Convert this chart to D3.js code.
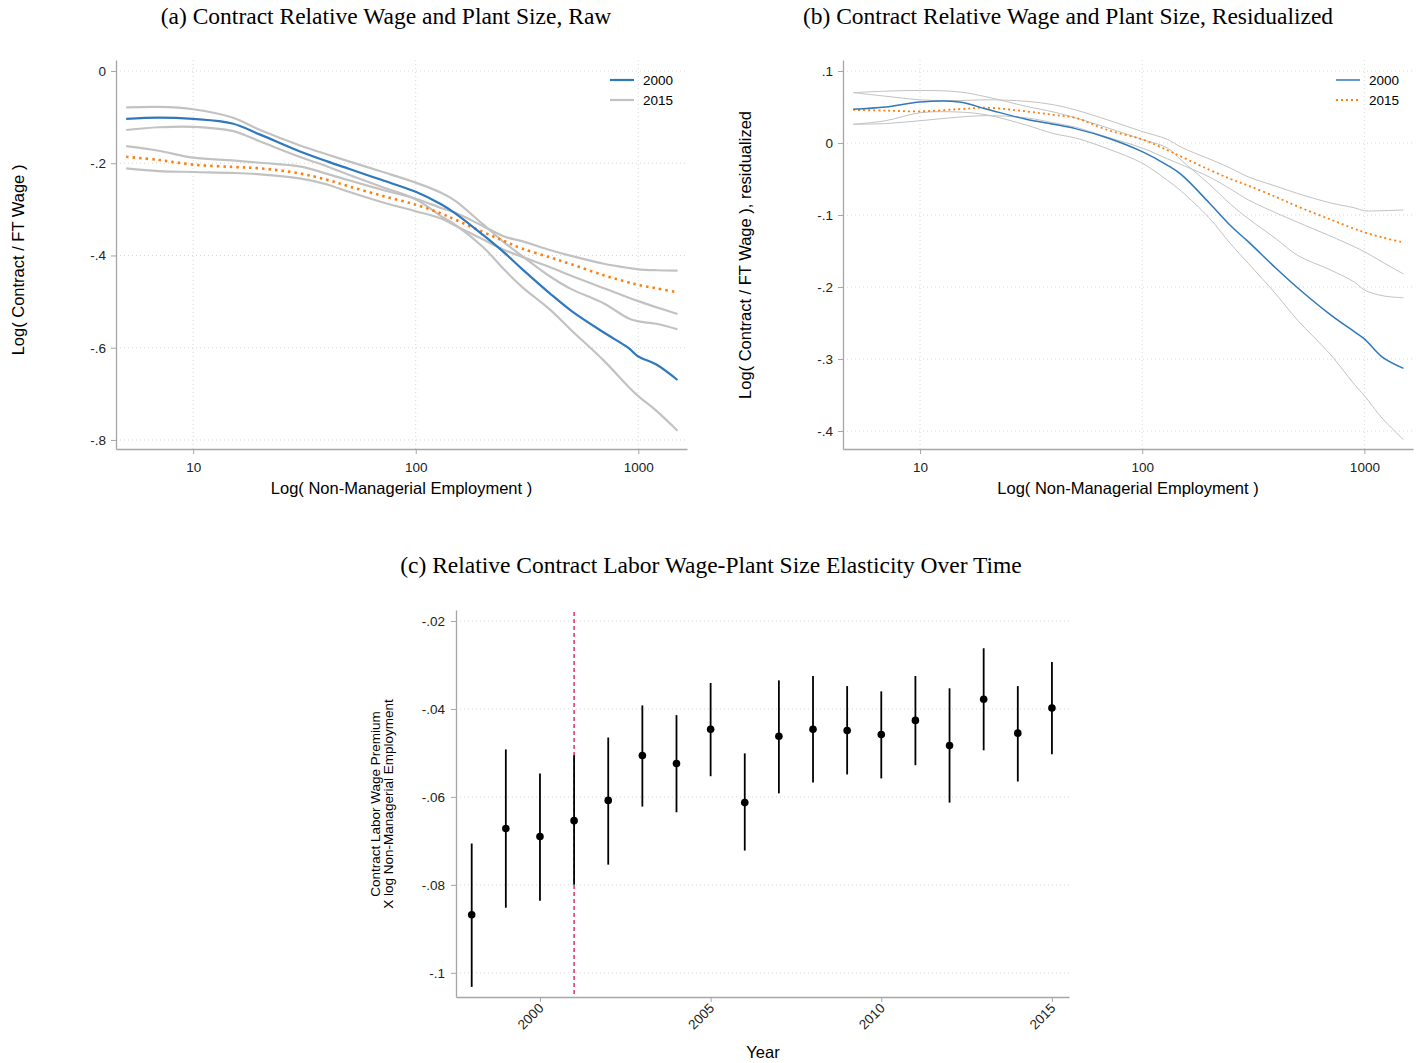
<!DOCTYPE html>
<html>
<head>
<meta charset="utf-8">
<script src="https://cdn.jsdelivr.net/npm/d3@7"></script>
<style>
body { margin: 0; background: #fff; }
text { font-family: "Liberation Sans", Arial, sans-serif; }
.title { font-family: "Liberation Serif", "Times New Roman", serif; font-size: 23.5px; fill: #000; }
</style>
</head>
<body>
<script>
// plant size grid (non-managerial employment)
var emp = [5, 7, 10, 15, 20, 30, 40, 50, 70, 100, 130, 150, 200, 250, 300, 400, 500, 700, 900, 1000, 1200, 1500];

// (a) raw
var rawEst2000 = [-0.104, -0.101, -0.104, -0.114, -0.138, -0.174, -0.196, -0.212, -0.236, -0.262, -0.289, -0.308, -0.355, -0.394, -0.429, -0.482, -0.520, -0.567, -0.600, -0.619, -0.636, -0.670];
var rawHi2000 = [-0.079, -0.078, -0.083, -0.101, -0.128, -0.161, -0.181, -0.196, -0.218, -0.242, -0.264, -0.281, -0.332, -0.372, -0.401, -0.445, -0.473, -0.504, -0.536, -0.543, -0.548, -0.560];
var rawLo2000 = [-0.128, -0.122, -0.121, -0.130, -0.153, -0.186, -0.207, -0.225, -0.251, -0.278, -0.315, -0.333, -0.381, -0.431, -0.468, -0.517, -0.562, -0.628, -0.684, -0.705, -0.736, -0.780];
var rawEst2015 = [-0.186, -0.193, -0.203, -0.208, -0.211, -0.222, -0.236, -0.250, -0.270, -0.290, -0.309, -0.322, -0.349, -0.369, -0.385, -0.404, -0.419, -0.443, -0.458, -0.464, -0.471, -0.480];
var rawHi2015 = [-0.163, -0.173, -0.188, -0.194, -0.199, -0.207, -0.223, -0.237, -0.257, -0.277, -0.297, -0.307, -0.336, -0.359, -0.369, -0.388, -0.401, -0.418, -0.427, -0.430, -0.432, -0.433];
var rawLo2015 = [-0.211, -0.217, -0.219, -0.221, -0.224, -0.233, -0.246, -0.262, -0.284, -0.304, -0.320, -0.335, -0.365, -0.388, -0.403, -0.425, -0.444, -0.471, -0.491, -0.499, -0.512, -0.527];

// (b) residualized
var resEst2000 = [0.047, 0.050, 0.057, 0.057, 0.047, 0.033, 0.026, 0.020, 0.007, -0.012, -0.031, -0.044, -0.083, -0.115, -0.137, -0.174, -0.201, -0.238, -0.262, -0.272, -0.297, -0.313];
var resHi2000 = [0.070, 0.072, 0.073, 0.071, 0.064, 0.051, 0.043, 0.035, 0.021, 0.005, -0.007, -0.024, -0.057, -0.085, -0.105, -0.133, -0.156, -0.176, -0.193, -0.204, -0.212, -0.215];
var resLo2000 = [0.026, 0.031, 0.042, 0.043, 0.039, 0.025, 0.013, 0.007, -0.008, -0.028, -0.052, -0.067, -0.104, -0.140, -0.167, -0.210, -0.246, -0.293, -0.335, -0.351, -0.382, -0.412];
var resEst2015 = [0.046, 0.045, 0.044, 0.047, 0.049, 0.044, 0.039, 0.035, 0.018, 0.005, -0.010, -0.019, -0.037, -0.050, -0.059, -0.075, -0.088, -0.106, -0.119, -0.124, -0.131, -0.138];
var resHi2015 = [0.070, 0.065, 0.060, 0.059, 0.060, 0.058, 0.053, 0.046, 0.032, 0.016, 0.005, -0.006, -0.022, -0.035, -0.047, -0.060, -0.070, -0.083, -0.090, -0.094, -0.094, -0.093];
var resLo2015 = [0.026, 0.027, 0.031, 0.036, 0.038, 0.035, 0.028, 0.022, 0.008, -0.007, -0.022, -0.030, -0.047, -0.064, -0.079, -0.097, -0.110, -0.129, -0.144, -0.151, -0.165, -0.182];

// (c) elasticity by year
var years = [1998, 1999, 2000, 2001, 2002, 2003, 2004, 2005, 2006, 2007, 2008, 2009, 2010, 2011, 2012, 2013, 2014, 2015];
var coef = [-0.0868, -0.0672, -0.0690, -0.0654, -0.0608, -0.0506, -0.0524, -0.0446, -0.0613, -0.0462, -0.0446, -0.0449, -0.0458, -0.0426, -0.0483, -0.0378, -0.0455, -0.0398];
var ciHi = [-0.0706, -0.0492, -0.0547, -0.0505, -0.0465, -0.0392, -0.0414, -0.0341, -0.0501, -0.0335, -0.0325, -0.0348, -0.0360, -0.0325, -0.0353, -0.0262, -0.0348, -0.0293];
var ciLo = [-0.1032, -0.0852, -0.0836, -0.0800, -0.0754, -0.0622, -0.0635, -0.0553, -0.0722, -0.0592, -0.0567, -0.0549, -0.0558, -0.0528, -0.0613, -0.0494, -0.0565, -0.0503];
var breakYear = 2001;

var ticksA = [0, -0.2, -0.4, -0.6, -0.8];
var ticksB = [0.1, 0, -0.1, -0.2, -0.3, -0.4];
var ticksC = [-0.02, -0.04, -0.06, -0.08, -0.1];
var empTicks = [10, 100, 1000];
var yearTicks = [2000, 2005, 2010, 2015];

var blue = "#2f78bd", orange = "#ff7f0e", ciGray = "#c2c2c2", axisGray = "#a6a6a6", gridGray = "#d6d6d6";

var svg = d3.select("body").append("svg").attr("width", 1424).attr("height", 1063);

// stata style: -.2 instead of -0.2
function fmt(v) {
    var s = String(+v.toFixed(3));
    return s.replace(/^(-?)0\./, "$1.");
}

function styleAxis(a) {
    a.select(".domain").attr("stroke", axisGray).attr("stroke-width", 1.3);
    a.selectAll(".tick line").attr("stroke", axisGray);
    a.selectAll(".tick text").attr("font-size", 13.5).attr("fill", "#222")
        .attr("font-family", "'Liberation Sans', Arial, sans-serif");
}

function panel(p) {
    var x = d3.scaleLog().domain([4.5, 1655]).range([p.left, p.right]);
    var y = d3.scaleLinear().domain(p.ydom).range([449, 60]);
    var g = svg.append("g");

    // grid
    g.selectAll(".hg").data(p.yticks).enter().append("line")
        .attr("x1", p.left).attr("x2", p.right)
        .attr("y1", function(d) { return y(d); }).attr("y2", function(d) { return y(d); })
        .attr("stroke", gridGray).attr("stroke-dasharray", "1,3");
    g.selectAll(".vg").data(empTicks).enter().append("line")
        .attr("y1", 60).attr("y2", 449)
        .attr("x1", function(d) { return x(d); }).attr("x2", function(d) { return x(d); })
        .attr("stroke", gridGray).attr("stroke-dasharray", "1,3");

    // axes
    var ya = g.append("g").attr("transform", "translate(" + p.left + ",0)")
        .call(d3.axisLeft(y).tickValues(p.yticks).tickFormat(fmt).tickSize(5).tickSizeOuter(0).tickPadding(5));
    var xa = g.append("g").attr("transform", "translate(0,449)")
        .call(d3.axisBottom(x).tickValues(empTicks).tickFormat(d3.format("d")).tickSize(5).tickSizeOuter(0).tickPadding(8));
    styleAxis(ya);
    styleAxis(xa);

    var line = function(vals) {
        return d3.line().curve(d3.curveCatmullRom.alpha(0.5))
            .x(function(d, i) { return x(emp[i]); })
            .y(function(d) { return y(d); })(vals);
    };
    p.ci.forEach(function(s) {
        g.append("path").attr("d", line(s)).attr("fill", "none").attr("stroke", ciGray).attr("stroke-width", p.ciw);
    });
    g.append("path").attr("d", line(p.est2015)).attr("fill", "none").attr("stroke", orange)
        .attr("stroke-width", p.ow).attr("stroke-dasharray", p.dash);
    g.append("path").attr("d", line(p.est2000)).attr("fill", "none").attr("stroke", blue).attr("stroke-width", p.bw);

    // legend
    var lx = p.right - 77;
    g.append("line").attr("x1", lx).attr("x2", lx + 24).attr("y1", 80).attr("y2", 80)
        .attr("stroke", blue).attr("stroke-width", p.bw);
    g.append("text").attr("x", lx + 33).attr("y", 85).attr("font-size", 13.5).text("2000");
    var l2 = g.append("line").attr("x1", lx).attr("x2", lx + 24).attr("y1", 100).attr("y2", 100)
        .attr("stroke", p.leg2color).attr("stroke-width", p.leg2w);
    if (p.leg2dash) l2.attr("stroke-dasharray", p.leg2dash);
    g.append("text").attr("x", lx + 33).attr("y", 105).attr("font-size", 13.5).text("2015");

    // labels
    g.append("text").attr("class", "title").attr("x", p.titlex).attr("y", 24)
        .attr("text-anchor", "middle").text(p.title);
    g.append("text").attr("x", (p.left + p.right) / 2).attr("y", 494).attr("text-anchor", "middle")
        .attr("font-size", 16.5).text("Log( Non-Managerial Employment )");
    g.append("text").attr("transform", "translate(" + p.ylabx + "," + p.ylaby + ") rotate(-90)").attr("text-anchor", "middle")
        .attr("font-size", 16.5).text(p.ylab);
}

panel({
    left: 116, right: 687, ydom: [-0.8196, 0.0238], yticks: ticksA,
    est2000: rawEst2000, est2015: rawEst2015, ci: [rawHi2000, rawLo2000, rawHi2015, rawLo2015],
    bw: 2.2, ciw: 2.2, ow: 2.6, dash: "2.5,4",
    leg2color: ciGray, leg2w: 2.2, leg2dash: null,
    title: "(a) Contract Relative Wage and Plant Size, Raw", titlex: 386,
    ylab: "Log( Contract / FT Wage )", ylabx: 24, ylaby: 260
});

panel({
    left: 843, right: 1413, ydom: [-0.425, 0.1153], yticks: ticksB,
    est2000: resEst2000, est2015: resEst2015, ci: [resHi2000, resLo2000, resHi2015, resLo2015],
    bw: 1.5, ciw: 1, ow: 1.8, dash: "2,3",
    leg2color: orange, leg2w: 1.8, leg2dash: "2,3",
    title: "(b) Contract Relative Wage and Plant Size, Residualized", titlex: 1068,
    ylab: "Log( Contract / FT Wage ), residualized", ylabx: 751, ylaby: 255
});

// (c)
var xc = d3.scaleLinear().domain([1997.54, 2015.5]).range([456, 1069]);
var yc = d3.scaleLinear().domain([-0.1055, -0.0175]).range([997, 610]);
var gc = svg.append("g");

gc.selectAll(".hg").data(ticksC).enter().append("line")
    .attr("x1", 456).attr("x2", 1069)
    .attr("y1", function(d) { return yc(d); }).attr("y2", function(d) { return yc(d); })
    .attr("stroke", gridGray).attr("stroke-dasharray", "1,3");

var yca = gc.append("g").attr("transform", "translate(456,0)")
    .call(d3.axisLeft(yc).tickValues(ticksC).tickFormat(fmt).tickSize(5).tickSizeOuter(0).tickPadding(6));
var xca = gc.append("g").attr("transform", "translate(0,997)")
    .call(d3.axisBottom(xc).tickValues(yearTicks).tickFormat(d3.format("d")).tickSize(5).tickSizeOuter(0));
styleAxis(yca);
styleAxis(xca);
xca.selectAll(".tick text").attr("text-anchor", "end").attr("dy", null).attr("y", 0)
    .attr("transform", "translate(4,12) rotate(-45)");

gc.append("line").attr("x1", xc(breakYear)).attr("x2", xc(breakYear)).attr("y1", 612).attr("y2", 997)
    .attr("stroke", "#e0306a").attr("stroke-width", 1.5).attr("stroke-dasharray", "4,3");

gc.selectAll(".ci").data(years).enter().append("line")
    .attr("x1", function(d) { return xc(d); }).attr("x2", function(d) { return xc(d); })
    .attr("y1", function(d, i) { return yc(ciLo[i]); }).attr("y2", function(d, i) { return yc(ciHi[i]); })
    .attr("stroke", "#000").attr("stroke-width", 1.8);
gc.selectAll(".pt").data(years).enter().append("circle")
    .attr("cx", function(d) { return xc(d); }).attr("cy", function(d, i) { return yc(coef[i]); })
    .attr("r", 3.8).attr("fill", "#000");

gc.append("text").attr("class", "title").attr("x", 711).attr("y", 573).attr("text-anchor", "middle")
    .text("(c) Relative Contract Labor Wage-Plant Size Elasticity Over Time");
gc.append("text").attr("x", 763).attr("y", 1058).attr("text-anchor", "middle").attr("font-size", 16.5).text("Year");
var yl = gc.append("text").attr("transform", "translate(380,804) rotate(-90)").attr("text-anchor", "middle")
    .attr("font-size", 13.5);
yl.append("tspan").attr("x", 0).attr("dy", 0).text("Contract Labor Wage Premium");
yl.append("tspan").attr("x", 0).attr("dy", 13).text("X log Non-Managerial Employment");
</script>
</body>
</html>
